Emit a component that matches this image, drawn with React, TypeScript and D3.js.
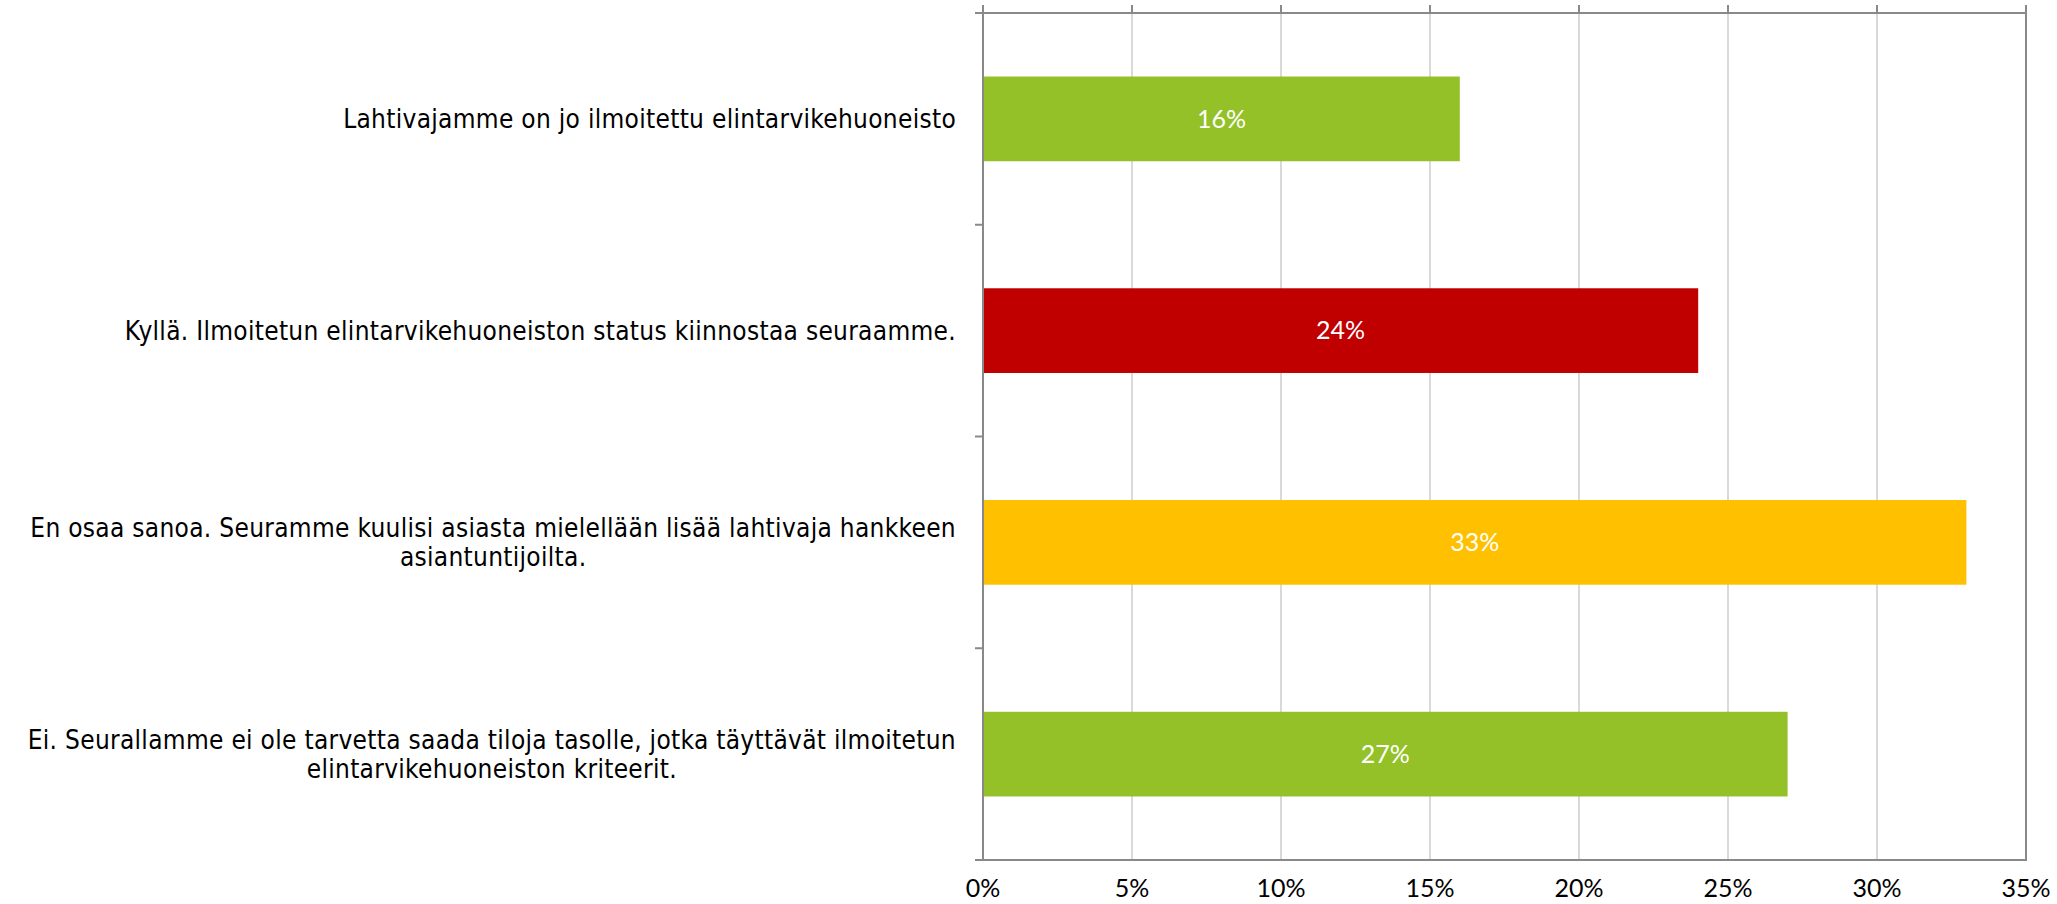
import React, { useEffect, useRef } from 'react';
import * as d3 from 'd3';

// answers, top to bottom (line breaks as in the original)
const categories = [
    'Lahtivajamme on jo ilmoitettu elintarvikehuoneisto',
    'Kyllä. Ilmoitetun elintarvikehuoneiston status kiinnostaa seuraamme.',
    'En osaa sanoa. Seuramme kuulisi asiasta mielellään lisää lahtivaja hankkeen\nasiantuntijoilta.',
    'Ei. Seurallamme ei ole tarvetta saada tiloja tasolle, jotka täyttävät ilmoitetun\nelintarvikehuoneiston kriteerit.',
];
const values = [16, 24, 33, 27];
const barColors = ['#93C127', '#C00000', '#FFC000', '#93C127'];
const xTicks = [0, 5, 10, 15, 20, 25, 30, 35];

const W = 2057;
const H = 904;

const App = () => {
    const ref = useRef<SVGSVGElement>(null);

    useEffect(() => {
        document.body.style.margin = '0';
        const svg = d3.select(ref.current);
        svg.selectAll('*').remove();

        const left = 983, right = 2026, top = 13, bottom = 860;

        const x = d3.scaleLinear().domain([0, 35]).range([left, right]);
        const y = d3.scaleBand<number>()
            .domain(d3.range(categories.length))
            .range([top, bottom])
            .paddingInner(0.6)
            .paddingOuter(0.3);

        // gridlines
        svg.append('g')
            .selectAll('line')
            .data(xTicks.slice(1, -1))
            .enter()
            .append('line')
            .attr('x1', d => x(d)).attr('x2', d => x(d))
            .attr('y1', top).attr('y2', bottom)
            .attr('stroke', '#D9D9D9')
            .attr('stroke-width', 2);

        // bars
        svg.append('g')
            .selectAll('rect')
            .data(values)
            .enter()
            .append('rect')
            .attr('x', x(0))
            .attr('y', (_, i) => y(i)!)
            .attr('width', d => x(d) - x(0))
            .attr('height', y.bandwidth())
            .attr('fill', (_, i) => barColors[i]);

        // value labels
        svg.append('g')
            .selectAll('text')
            .data(values)
            .enter()
            .append('text')
            .text(d => d + '%')
            .attr('x', d => (x(0) + x(d)) / 2)
            .attr('y', (_, i) => y(i)! + y.bandwidth() / 2)
            .attr('dy', '0.35em')
            .attr('text-anchor', 'middle')
            .attr('fill', '#fff')
            .style('font-family', 'Lato, "Open Sans", sans-serif')
            .style('font-size', '25px');

        // frame
        svg.append('rect')
            .attr('x', left).attr('y', top)
            .attr('width', right - left).attr('height', bottom - top)
            .attr('fill', 'none')
            .attr('stroke', '#898989')
            .attr('stroke-width', 2);

        // top tick marks
        svg.append('g')
            .selectAll('line')
            .data(xTicks)
            .enter()
            .append('line')
            .attr('x1', d => x(d)).attr('x2', d => x(d))
            .attr('y1', top - 8).attr('y2', top)
            .attr('stroke', '#898989')
            .attr('stroke-width', 2);

        // left tick marks at category boundaries
        const bounds = d3.range(categories.length + 1).map(i => top + i * y.step());
        svg.append('g')
            .selectAll('line')
            .data(bounds)
            .enter()
            .append('line')
            .attr('x1', left - 8).attr('x2', left)
            .attr('y1', d => d).attr('y2', d => d)
            .attr('stroke', '#898989')
            .attr('stroke-width', 2);

        // x tick labels
        svg.append('g')
            .selectAll('text')
            .data(xTicks)
            .enter()
            .append('text')
            .text(d => d + '%')
            .attr('x', d => x(d))
            .attr('y', 897)
            .attr('text-anchor', 'middle')
            .attr('fill', '#000')
            .style('font-family', 'Lato, "Open Sans", sans-serif')
            .style('font-size', '25px');

        // category labels: lines centred on a block that ends at labelRight
        const labelRight = 956;
        const lineH = 29;
        categories.forEach((c, i) => {
            const lines = c.split('\n');
            const g = svg.append('g');
            const texts = lines.map((l, j) =>
                g.append('text')
                    .text(l)
                    .attr('y', y(i)! + y.bandwidth() / 2 + (j - (lines.length - 1) / 2) * lineH)
                    .attr('dy', '0.35em')
                    .attr('text-anchor', 'middle')
                    .attr('fill', '#000')
                    .style('font-family', '"DejaVu Sans Condensed", "DejaVu Sans", sans-serif')
                    .style('font-stretch', 'condensed')
                    .style('font-size', '26px')
                    .style('letter-spacing', '0.3px')
            );
            const maxW = d3.max(texts, t => (t.node() as SVGTextElement).getComputedTextLength()) || 0;
            texts.forEach(t => t.attr('x', labelRight - maxW / 2));
        });
    }, []);

    return <svg ref={ref} width={W} height={H} style={{ display: 'block', background: '#fff' }}></svg>;
};

export default App;
